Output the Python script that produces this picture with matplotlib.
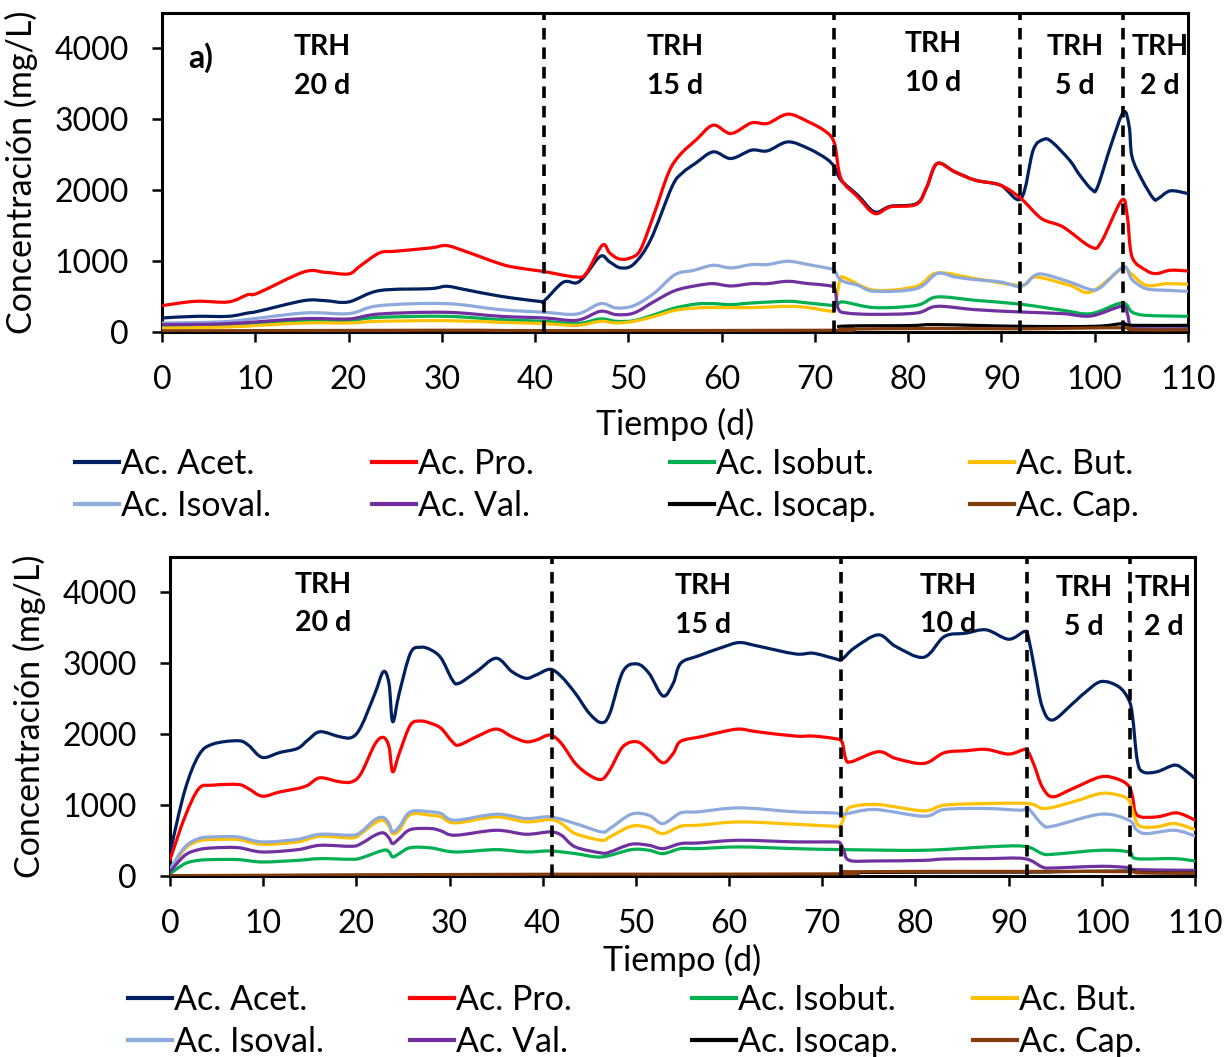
import numpy as np
import matplotlib
matplotlib.use("Agg")
import matplotlib.pyplot as plt
from matplotlib.path import Path
from matplotlib.patches import PathPatch
from matplotlib.lines import Line2D

plt.rcParams['font.family'] = ['Lato', 'DejaVu Sans']

# ---------------- data: panel a) ----------------
a_acet_t = [0, 3.6, 7.1, 9.2, 10.3, 15.2, 17.5, 20, 23.3, 28.8, 30.5, 32.5, 36.3, 40.4, 41, 43, 44.4, 45.3, 47, 48, 49.2, 50.6, 52.4, 54.7, 55.8, 57.2, 59.1, 61, 63.2, 64.9, 67.1, 69.3, 71.2, 72.1, 72.8, 74.6, 76.4, 78.1, 80.9, 82, 83.1, 85, 87.2, 89.9, 92.1, 93.4, 94.5, 95.4, 97.3, 98.4, 99.7, 100.3, 101.8, 103.1, 103.7, 104, 105.1, 106.3, 106.8, 108.1, 110]
a_acet_v = [198, 221, 221, 268, 292, 442, 442, 424, 584, 612, 645, 598, 504, 433, 442, 701, 692, 786, 1068, 988, 904, 960, 1304, 2056, 2245, 2380, 2541, 2447, 2565, 2555, 2682, 2588, 2447, 2329, 2141, 1929, 1694, 1774, 1812, 2047, 2376, 2259, 2141, 2071, 1882, 2565, 2715, 2682, 2424, 2212, 2009, 2047, 2659, 3106, 2894, 2471, 2141, 1882, 1882, 1991, 1953]

a_pro_t = [0, 3.6, 7.1, 9.2, 10.3, 15.2, 17.5, 20, 21.2, 23.3, 25, 28.8, 30.5, 32.5, 36.3, 38.2, 40.8, 44.4, 45.5, 47.2, 48, 49, 50.2, 51.3, 52.8, 54.3, 55.5, 57.3, 59.1, 61, 63.2, 64.9, 67.1, 69.3, 71.2, 72.1, 72.8, 74.6, 76.4, 78.1, 80.9, 82, 83.1, 85, 87.2, 89.9, 92.1, 94.3, 96.6, 99.6, 100.7, 102.9, 103.5, 104, 105.5, 106.6, 108.1, 110]
a_pro_v = [372, 433, 424, 527, 550, 847, 842, 819, 927, 1115, 1139, 1186, 1219, 1139, 960, 904, 856, 776, 833, 1224, 1115, 1031, 1045, 1162, 1680, 2245, 2494, 2715, 2918, 2800, 2950, 2941, 3073, 2965, 2823, 2659, 2165, 1906, 1671, 1765, 1802, 2047, 2376, 2259, 2141, 2071, 1882, 1600, 1482, 1200, 1270, 1859, 1623, 1059, 871, 824, 871, 861]

a_isobut_t = [0, 7.1, 15.2, 20, 23.3, 30.5, 36.3, 41, 44.5, 47, 48.7, 50.6, 52.8, 55, 57.3, 59.1, 61, 63.2, 67.1, 69.3, 72.1, 73, 76.4, 80.9, 83.1, 87.2, 92.1, 96.6, 99.6, 102.9, 104, 105.5, 110]
a_isobut_v = [89, 104, 165, 165, 207, 221, 174, 151, 118, 184, 151, 160, 245, 339, 395, 400, 386, 409, 433, 409, 376, 424, 344, 376, 494, 447, 391, 306, 259, 409, 282, 235, 221]

a_but_t = [0, 7.1, 15.2, 20, 23.3, 30.5, 36.3, 41, 44.5, 47, 48.7, 50.6, 52.8, 55, 57.3, 59.1, 63.2, 67.1, 69.3, 71.6, 72.1, 72.7, 73.4, 76.4, 80.9, 83.1, 87.2, 92.1, 93.6, 97.3, 99.6, 102.9, 103.7, 105.5, 107.7, 110]
a_but_v = [56, 71, 127, 127, 151, 160, 137, 118, 94, 151, 127, 151, 221, 306, 339, 344, 344, 362, 344, 296, 329, 739, 753, 588, 645, 833, 753, 659, 776, 659, 565, 894, 847, 659, 682, 673]

a_isoval_t = [0, 7.1, 15.2, 20, 23.3, 30.5, 36.3, 41, 44.5, 47, 48.7, 50.6, 52.8, 55, 57, 59.1, 61, 63.2, 64.9, 67.1, 69.3, 71.6, 72.1, 72.8, 74.6, 76.4, 80.9, 83.1, 85, 87.2, 89.9, 92.1, 93.6, 94.7, 97.3, 99.6, 100.7, 103.1, 104, 105.5, 107.7, 110]
a_isoval_v = [127, 150, 268, 259, 372, 400, 315, 278, 254, 400, 339, 372, 551, 809, 870, 941, 904, 951, 951, 998, 951, 894, 871, 729, 659, 574, 612, 824, 776, 739, 706, 645, 800, 809, 706, 598, 635, 918, 739, 612, 588, 574]

a_val_t = [0, 7.1, 15.2, 20, 23.3, 30.5, 36.3, 41, 44.5, 47, 48.7, 50.6, 52.8, 55, 57.3, 59.1, 61, 63.2, 64.9, 67.1, 69.3, 71.2, 72.1, 72.5, 73.4, 76.4, 80.9, 83.1, 87.2, 92.1, 96.6, 99.6, 102.9, 103.5, 103.8, 104.4, 110]
a_val_v = [104, 118, 188, 184, 254, 278, 221, 198, 165, 292, 245, 268, 433, 584, 654, 682, 649, 682, 682, 715, 682, 659, 612, 329, 268, 249, 268, 362, 315, 282, 259, 226, 362, 259, 71, 47, 47]

a_isocap_t = [0, 41, 72, 72.7, 80, 83.1, 92, 100, 103, 104, 110]
a_isocap_v = [8, 12, 15, 80, 90, 104, 80, 80, 118, 94, 94]

a_cap_t = [0, 30, 41, 72, 73, 83, 92, 103, 104, 110]
a_cap_v = [15, 25, 20, 25, 40, 50, 45, 60, 30, 30]

# ---------------- data: panel b) ----------------
b_acet_t = [0, 1.6, 3.1, 4.6, 7.3, 8.4, 9.9, 11.8, 13.7, 14.8, 16.1, 18.2, 19.5, 20.5, 22, 22.9, 23.5, 23.9, 24.6, 25.8, 26.9, 28, 29.1, 30.3, 31, 32.9, 35, 36.7, 38.2, 39.3, 40.8, 42, 43.5, 45, 46.3, 47.2, 48.6, 50.1, 51.4, 52.9, 54, 54.8, 56.7, 59.3, 61.1, 63, 67.1, 69, 71.2, 72.1, 73.4, 76, 77.9, 80.9, 83.1, 85.4, 87.6, 90, 91.7, 92.1, 92.8, 93.6, 94.7, 96.9, 98.1, 99.9, 101.8, 102.9, 103.3, 103.8, 104.4, 105.9, 107.8, 108.9, 110]
b_acet_v = [330, 1211, 1706, 1861, 1908, 1847, 1673, 1743, 1800, 1918, 2035, 1965, 1955, 2106, 2577, 2883, 2718, 2177, 2577, 3142, 3227, 3190, 3072, 2766, 2718, 2883, 3072, 2883, 2789, 2836, 2916, 2813, 2577, 2294, 2163, 2294, 2883, 2992, 2860, 2540, 2718, 3000, 3105, 3227, 3293, 3246, 3133, 3143, 3072, 3058, 3213, 3402, 3237, 3086, 3378, 3425, 3472, 3340, 3449, 3378, 2907, 2389, 2200, 2436, 2577, 2742, 2671, 2483, 2247, 1635, 1470, 1470, 1564, 1494, 1376]

b_pro_t = [0, 1.6, 3.1, 4.6, 7.3, 8.4, 9.9, 11.8, 13.7, 14.8, 16.1, 18.2, 19.5, 20.5, 22, 22.9, 23.5, 23.9, 24.6, 25.8, 26.9, 28, 29.1, 30.3, 31, 32.9, 35, 36.7, 38.2, 39.3, 40.8, 42, 43.5, 45, 46.3, 47.2, 48.6, 50.1, 51.4, 52.9, 54, 54.8, 57, 59.3, 61.1, 63, 67.1, 69, 71.2, 72.1, 72.5, 73.1, 76, 77.9, 80.9, 83.1, 85.4, 87.6, 90, 91.7, 92.1, 92.8, 93.6, 94.7, 96.9, 99.9, 101.8, 102.9, 103.3, 103.8, 105.9, 107.8, 108.9, 110]
b_pro_v = [230, 834, 1234, 1281, 1291, 1234, 1126, 1187, 1234, 1281, 1385, 1329, 1329, 1446, 1861, 1955, 1823, 1470, 1729, 2130, 2186, 2153, 2082, 1894, 1847, 1965, 2073, 1965, 1894, 1918, 1988, 1870, 1588, 1423, 1362, 1494, 1823, 1894, 1776, 1597, 1729, 1900, 1965, 2035, 2073, 2035, 1974, 1974, 1941, 1894, 1658, 1611, 1753, 1658, 1588, 1739, 1767, 1786, 1720, 1786, 1753, 1541, 1258, 1117, 1234, 1399, 1362, 1267, 1117, 857, 834, 890, 857, 787]

b_isobut_t = [0, 1.6, 3.1, 4.6, 7.3, 9.9, 13.7, 16.1, 19.5, 20.5, 22.9, 23.5, 23.9, 24.6, 25.8, 28, 30.6, 35, 38.2, 40.8, 43.5, 46.3, 49.5, 51.4, 52.9, 54.8, 56.7, 61.1, 67.1, 72.3, 80.9, 87.6, 91.7, 93.6, 94.7, 99.9, 102.9, 103.7, 107.8, 110]
b_isobut_v = [30, 174, 221, 231, 231, 198, 221, 245, 236, 254, 363, 339, 269, 316, 400, 396, 339, 372, 339, 353, 316, 269, 372, 363, 316, 386, 386, 410, 386, 372, 363, 410, 419, 316, 306, 363, 339, 245, 245, 212]

b_but_t = [0, 1.6, 3.1, 4.6, 7.3, 9.9, 13.7, 16.1, 19.5, 20.5, 22, 22.9, 23.5, 23.9, 24.6, 25.8, 28, 29.1, 30.6, 35, 38.2, 40.8, 42, 43.5, 46.3, 47.2, 49.5, 51.4, 52.9, 54.8, 56.7, 61.1, 67.1, 71.2, 71.9, 72.5, 73.1, 76, 80.9, 83.1, 87.6, 92.1, 93.9, 96.9, 99.9, 101.8, 102.9, 103.5, 104.1, 105.9, 107.8, 110]
b_but_v = [70, 386, 495, 514, 514, 448, 481, 561, 537, 598, 749, 787, 702, 598, 645, 867, 857, 834, 749, 834, 763, 796, 740, 598, 504, 551, 702, 683, 598, 702, 716, 763, 730, 702, 702, 881, 975, 1008, 919, 999, 1022, 1022, 952, 1046, 1164, 1140, 1069, 834, 702, 693, 740, 655]

b_isoval_t = [0, 1.6, 3.1, 4.6, 7.3, 9.9, 13.7, 16.1, 19.5, 20.5, 22, 22.9, 23.5, 23.9, 24.6, 25.8, 28, 29.1, 30.6, 35, 38.2, 40.8, 43.5, 46.3, 47.2, 49.5, 51.4, 52.9, 54.8, 56.7, 61.1, 67.1, 71.2, 72.3, 75.6, 80.9, 83.1, 87.6, 91.3, 92.1, 93.6, 94.7, 99.9, 102.9, 103.7, 104.8, 107.8, 110]
b_isoval_v = [100, 410, 528, 551, 551, 481, 518, 589, 575, 622, 796, 824, 740, 622, 693, 905, 905, 881, 787, 872, 810, 834, 740, 622, 669, 872, 857, 740, 890, 905, 961, 905, 890, 872, 938, 843, 938, 952, 928, 952, 730, 702, 872, 787, 655, 598, 645, 565]

b_val_t = [0, 1.6, 3.1, 4.6, 7.3, 9.9, 13.7, 16.1, 19.5, 20.5, 22, 22.9, 23.5, 23.9, 24.6, 25.8, 28, 29.1, 30.6, 35, 38.2, 40.8, 42, 43.5, 46.3, 47.2, 49.5, 51.4, 52.9, 54.8, 56.7, 61.1, 67.1, 71.2, 71.9, 72.3, 72.9, 75.6, 80.9, 83.1, 87.6, 91.7, 93.6, 94.7, 99.9, 102.9, 103.7, 110]
b_val_v = [60, 292, 372, 396, 400, 339, 372, 433, 419, 457, 575, 608, 537, 457, 528, 655, 669, 636, 575, 645, 589, 622, 575, 410, 325, 339, 448, 433, 386, 457, 466, 504, 481, 481, 466, 363, 221, 212, 221, 240, 245, 245, 127, 113, 137, 118, 90, 80]

b_isocap_t = [0, 20, 41, 72, 73, 92, 95, 103, 104, 110]
b_isocap_v = [0, 10, 15, 20, 50, 55, 60, 70, 50, 40]

b_cap_t = [0, 20, 41, 72, 73, 92, 103, 104, 110]
b_cap_v = [5, 15, 25, 30, 60, 65, 60, 45, 40]

acid_names = ["Ac. Acet.", "Ac. Pro.", "Ac. Isobut.", "Ac. But.",
              "Ac. Isoval.", "Ac. Val.", "Ac. Isocap.", "Ac. Cap."]
acid_colors = ["#002060", "#FF0000", "#00B050", "#FFC000",
               "#8EA9DB", "#7030A0", "#000000", "#843C0C"]

phase_bounds = [41, 72, 92, 103]
x_ticks = [0, 10, 20, 30, 40, 50, 60, 70, 80, 90, 100, 110]
y_ticks = [0, 1000, 2000, 3000, 4000]

panel_a = [(a_acet_t, a_acet_v), (a_pro_t, a_pro_v), (a_isobut_t, a_isobut_v),
           (a_but_t, a_but_v), (a_isoval_t, a_isoval_v), (a_val_t, a_val_v),
           (a_isocap_t, a_isocap_v), (a_cap_t, a_cap_v)]
panel_b = [(b_acet_t, b_acet_v), (b_pro_t, b_pro_v), (b_isobut_t, b_isobut_v),
           (b_but_t, b_but_v), (b_isoval_t, b_isoval_v), (b_val_t, b_val_v),
           (b_isocap_t, b_isocap_v), (b_cap_t, b_cap_v)]

# phase labels: (text, x, y) per panel
labels_a = [("TRH\n20 d", 17.2, 4200), ("TRH\n15 d", 55.0, 4200),
            ("TRH\n10 d", 82.7, 4240), ("TRH\n5 d", 97.9, 4200),
            ("TRH\n2 d", 107.0, 4200)]
labels_b = [("TRH\n20 d", 16.4, 4290), ("TRH\n15 d", 57.2, 4270),
            ("TRH\n10 d", 83.5, 4280), ("TRH\n5 d", 98.1, 4240),
            ("TRH\n2 d", 106.6, 4240)]

FS_TICK = 23
FS_LAB = 24.5
LW = 2.3


def smooth_path(t, v):
    """Cubic Bezier path through the points (Catmull-Rom style smoothing)."""
    p = np.column_stack([t, v]).astype(float)
    n = len(p)
    verts = [p[0]]
    codes = [Path.MOVETO]
    for i in range(n - 1):
        p0 = p[i - 1] if i > 0 else p[i]
        p1 = p[i]
        p2 = p[i + 1]
        p3 = p[i + 2] if i + 2 < n else p[i + 1]
        c1 = p1 + (p2 - p0) / 6.0
        c2 = p2 - (p3 - p1) / 6.0
        verts += [c1, c2, p2]
        codes += [Path.CURVE4] * 3
    return Path(verts, codes)


def draw_panel(ax, series, labels, xlabelpad, tag=None):
    for (t, v), col in zip(series, acid_colors):
        patch = PathPatch(smooth_path(t, v), facecolor="none", edgecolor=col,
                          lw=LW, capstyle="round", joinstyle="round", zorder=3)
        ax.add_patch(patch)
    for b in phase_bounds:
        ax.axvline(b, color="black", lw=2.6, ls=(0, (3.2, 2.2)), zorder=5)
    for txt, x, y in labels:
        ax.text(x, y, txt, ha="center", va="top", fontsize=20.5,
                fontweight="bold", linespacing=1.6, zorder=6)
    if tag:
        ax.text(4.2, 3873, tag, ha="center", va="center", fontsize=23,
                fontweight="bold", zorder=6)
    ax.set_xlim(0, 110)
    ax.set_ylim(0, 4500)
    ax.set_xticks(x_ticks)
    ax.set_yticks(y_ticks)
    ax.tick_params(axis="both", direction="out", length=7, width=1.8,
                   labelsize=FS_TICK, pad=17)
    for s in ax.spines.values():
        s.set_linewidth(2.2)
    ax.set_xlabel("Tiempo (d)", fontsize=FS_LAB, labelpad=xlabelpad)
    ax.set_ylabel("Concentración (mg/L)", fontsize=FS_LAB, labelpad=12)


def draw_legend(fig, col_x, row_y, W, H):
    handles = [Line2D([], [], color=c, lw=3) for c in acid_colors]
    for j in range(4):
        fig.legend([handles[j], handles[j + 4]],
                   [acid_names[j], acid_names[j + 4]],
                   loc="center left",
                   bbox_to_anchor=(col_x[j] / W, 1 - row_y / H),
                   frameon=False, fontsize=FS_LAB, handlelength=1.3,
                   handletextpad=0.06, borderpad=0, borderaxespad=0,
                   labelspacing=0.3)


W, H = 1225, 1057
fig = plt.figure(figsize=(W / 100, H / 100), dpi=100)

ax1 = fig.add_axes([162 / W, 1 - 332 / H, (1188 - 162) / W, (332 - 13) / H])
ax2 = fig.add_axes([170 / W, 1 - 876 / H, (1195 - 170) / W, (876 - 557) / H])

draw_panel(ax1, panel_a, labels_a, xlabelpad=9, tag="a)")
draw_panel(ax2, panel_b, labels_b, xlabelpad=3)

draw_legend(fig, [75, 372, 670, 970], 485, W, H)
draw_legend(fig, [128, 410, 692, 973], 1021, W, H)

fig.savefig("out.png", dpi=100)
